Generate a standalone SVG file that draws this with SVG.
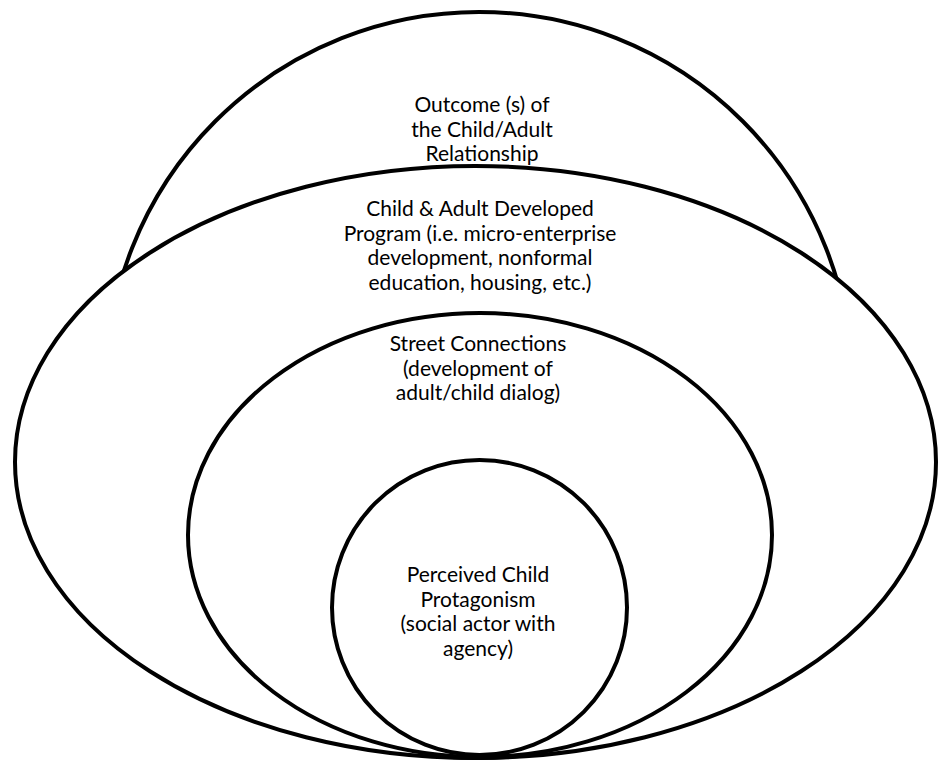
<svg xmlns="http://www.w3.org/2000/svg" width="940" height="761" viewBox="0 0 940 761">
<style>
.s{fill:#fff;stroke:#000;stroke-width:4}
text{font-family:"Lato","Liberation Sans",sans-serif;font-size:21px;fill:#000;text-anchor:middle}
</style>
<rect width="940" height="761" fill="#fff"/>
<g id="outcome">
<circle class="s" cx="479" cy="385" r="373"/>
</g>
<g id="program">
<ellipse class="s" cx="475.5" cy="462" rx="460.5" ry="296"/>
</g>
<g id="street">
<ellipse class="s" cx="480" cy="535" rx="292" ry="222"/>
</g>
<g id="protagonism">
<circle class="s" cx="479.5" cy="607.5" r="147.5"/>
</g>
<g id="labels">
<text x="482" y="112">Outcome (s) of</text>
<text x="482" y="137">the Child/Adult</text>
<text x="482" y="161">Relationship</text>
<text x="480" y="216">Child &amp; Adult Developed</text>
<text x="480" y="241">Program (i.e. micro-enterprise</text>
<text x="480" y="265">development, nonformal</text>
<text x="480" y="290">education, housing, etc.)</text>
<text x="478" y="351">Street Connections</text>
<text x="478" y="376">(development of</text>
<text x="478" y="400">adult/child dialog)</text>
<text x="478" y="582">Perceived Child</text>
<text x="478" y="607">Protagonism</text>
<text x="478" y="631">(social actor with</text>
<text x="478" y="656">agency)</text>
</g>
</svg>
